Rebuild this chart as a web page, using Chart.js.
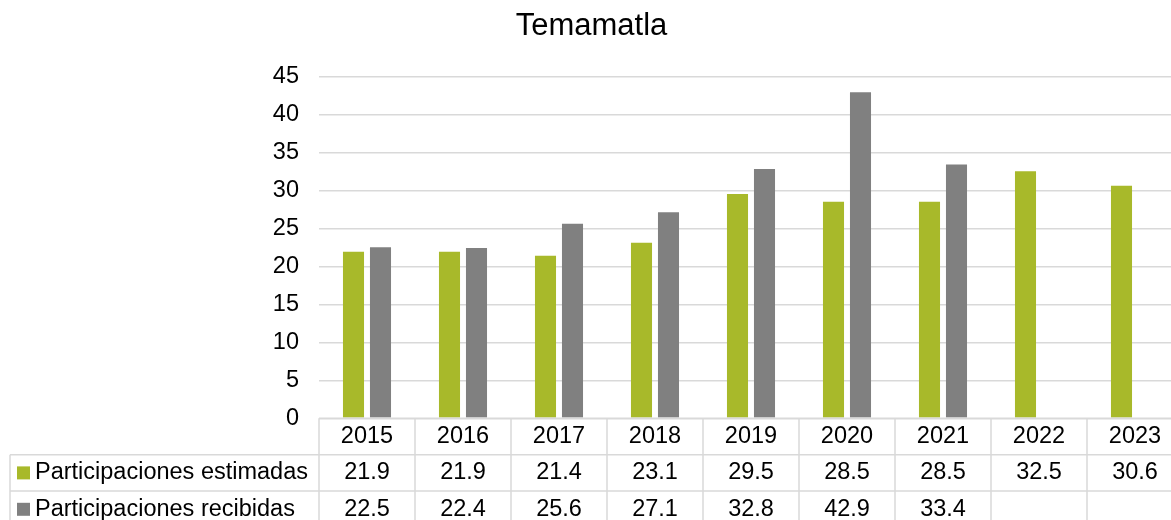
<!DOCTYPE html>
<html>
<head>
<meta charset="utf-8">
<script src="https://cdn.jsdelivr.net/npm/chart.js@4/dist/chart.umd.min.js"></script>
<style>
  html, body { margin: 0; padding: 0; background: #fff; overflow: hidden; }
  #wrap { width: 1171px; height: 520px; overflow: hidden; }
</style>
</head>
<body>
<div id="wrap"><canvas id="chart" width="1191" height="540"></canvas></div>
<script>
// ── data ────────────────────────────────────────────────────────────────────
const years      = ['2015', '2016', '2017', '2018', '2019', '2020', '2021', '2022', '2023'];
const estimadas  = [21.9, 21.9, 21.4, 23.1, 29.5, 28.5, 28.5, 32.5, 30.6];
const recibidas  = [22.5, 22.4, 25.6, 27.1, 32.8, 42.9, 33.4, null, null];
const seriesNames = ['Participaciones estimadas', 'Participaciones recibidas'];
const yTicks     = [0, 5, 10, 15, 20, 25, 30, 35, 40, 45];

const GREEN = '#A8B92A';
const GREY  = '#808080';
const LINE  = '#D9D9D9';
const FONT  = "'Liberation Sans', Arial, sans-serif";
const FS    = 23.5;

// data table under the plot, positioned from the x scale
const dataTable = {
  id: 'dataTable',
  afterDraw(chart) {
    const { ctx, chartArea, scales: { x } } = chart;
    const half = (x.getPixelForValue(1) - x.getPixelForValue(0)) / 2;
    const top = chartArea.bottom, rowH = 36.4, tableLeft = 10;
    const right = x.getPixelForValue(years.length - 1) + half;
    const rows = [estimadas, recibidas];
    const colors = [GREEN, GREY];

    ctx.save();
    ctx.strokeStyle = LINE;
    ctx.lineWidth = 1.5;
    ctx.beginPath();
    ctx.moveTo(chartArea.left, top); ctx.lineTo(right, top);
    for (let r = 1; r <= 3; r++) {
      ctx.moveTo(tableLeft, top + r * rowH); ctx.lineTo(right, top + r * rowH);
    }
    ctx.moveTo(tableLeft, top + rowH); ctx.lineTo(tableLeft, top + 3 * rowH);
    for (let i = 0; i <= years.length; i++) {
      const px = x.getPixelForValue(0) - half + i * 2 * half;
      ctx.moveTo(px, top); ctx.lineTo(px, top + 3 * rowH);
    }
    ctx.stroke();

    ctx.fillStyle = '#000';
    ctx.font = `${FS}px ${FONT}`;
    ctx.textBaseline = 'middle';
    ctx.textAlign = 'center';
    years.forEach((y, i) => ctx.fillText(y, x.getPixelForValue(i), top + rowH / 2));

    rows.forEach((vals, r) => {
      const cy = top + rowH * (r + 1.5);
      ctx.fillStyle = colors[r];
      ctx.fillRect(17, cy - 6.5, 13, 13);
      ctx.fillStyle = '#000';
      ctx.textAlign = 'left';
      ctx.fillText(seriesNames[r], 35, cy);
      ctx.textAlign = 'center';
      vals.forEach((v, i) => {
        if (v != null) ctx.fillText(v.toFixed(1), x.getPixelForValue(i), cy);
      });
    });
    ctx.restore();
  }
};

new Chart(document.getElementById('chart'), {
  type: 'bar',
  data: {
    labels: years,
    datasets: [
      { label: seriesNames[0], data: estimadas, backgroundColor: GREEN },
      { label: seriesNames[1], data: recibidas, backgroundColor: GREY }
    ]
  },
  options: {
    responsive: false,
    animation: false,
    categoryPercentage: 0.5625,
    barPercentage: 0.78,
    layout: { padding: { left: 0, right: 8, top: 0, bottom: 121.7 } },
    plugins: {
      legend: { display: false },
      tooltip: { enabled: false },
      title: {
        display: true, text: 'Temamatla', color: '#000',
        font: { family: FONT, size: 31, weight: 'normal', lineHeight: 1.2 },
        padding: { top: 8, bottom: 31.1 }
      }
    },
    scales: {
      x: { display: false },
      y: {
        min: 0, max: 45,
        afterFit: s => { s.width = 319; },
        afterBuildTicks: s => { s.ticks = yTicks.map(v => ({ value: v })); },
        border: { display: false },
        grid: { color: LINE, lineWidth: 1.5, drawTicks: false },
        ticks: { padding: 20, color: '#000', font: { family: FONT, size: FS } }
      }
    }
  },
  plugins: [dataTable]
});
</script>
</body>
</html>
